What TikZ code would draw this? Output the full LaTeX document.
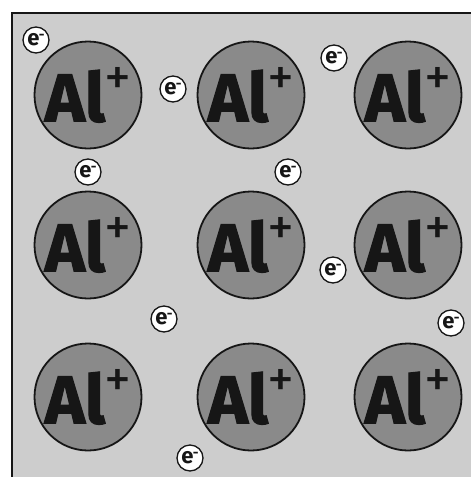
\documentclass[tikz,border=0pt]{standalone}
\usepackage{fontspec}
\setmainfont{Fira Sans}
\newfontfamily\heavyfont[UprightFont={* Bold}, FakeBold=1.6]{Fira Sans}
\definecolor{bggray}{RGB}{205,205,205}
\definecolor{iongray}{RGB}{138,138,138}
\definecolor{inkdark}{RGB}{22,22,22}
\newcommand\ionlbl{{\fontsize{68}{68}\selectfont\heavyfont Al}\kern-1pt\raisebox{26pt}{\fontsize{54}{54}\selectfont +}}
\newcommand\elbl{{\fontsize{22}{22}\selectfont\bfseries e}\kern-0.5pt\raisebox{6pt}{\fontsize{14}{14}\selectfont\bfseries -}}
\tikzset{
  ion/.style={circle, draw=inkdark, line width=1.8pt, fill=iongray, minimum size=107pt, inner sep=0pt, text=inkdark},
  elec/.style={circle, draw=inkdark, line width=1.3pt, fill=white, minimum size=26pt, inner sep=0pt, text=inkdark},
  frame/.style={draw=inkdark, line width=1.8pt, fill=bggray}
}
\begin{document}
\begin{tikzpicture}[x=1pt,y=-1pt]
\useasboundingbox (0,0) rectangle (471,477);
\fill[white] (0,0) rectangle (471,477);
\draw[frame] (12,13) rectangle (490,495);
\foreach \r/\yy in {1/95,2/245,3/397}{
  \foreach \c/\xx in {1/88,2/251,3/408}{
    \node[ion] (ion\r\c) at (\xx,\yy) {\ionlbl};
  }
}
\node[elec] (e1) at (36,40) {\elbl};
\node[elec] (e2) at (173,89) {\elbl};
\node[elec] (e3) at (334,58) {\elbl};
\node[elec] (e4) at (88,172) {\elbl};
\node[elec] (e5) at (288,172) {\elbl};
\node[elec] (e6) at (333,270) {\elbl};
\node[elec] (e7) at (164,319) {\elbl};
\node[elec] (e8) at (451,323) {\elbl};
\node[elec] (e9) at (190,458) {\elbl};
\end{tikzpicture}
\end{document}
